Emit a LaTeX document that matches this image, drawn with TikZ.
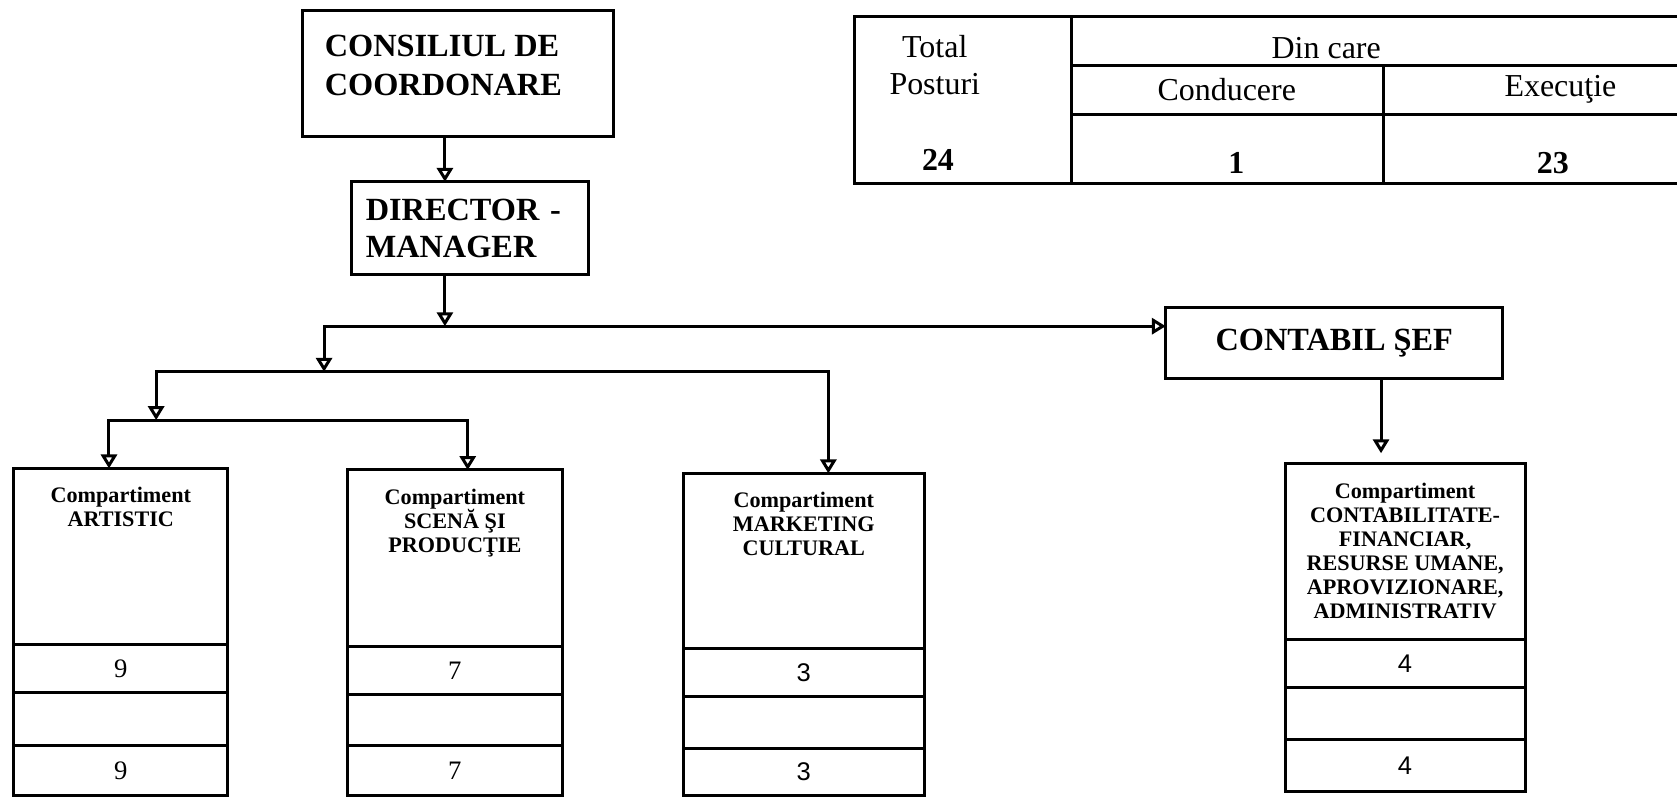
\documentclass[tikz,border=0pt]{standalone}
\usepackage{fontspec}
\setmainfont{Liberation Serif}
\newfontfamily\numsans{Liberation Sans}
\usetikzlibrary{positioning, arrows.meta, calc}
\tikzset{
    % Node Styles
    headbox/.style={
        rectangle, draw, line width=0.8pt, outer sep=0pt,
        font=\fontsize{8.6}{10}\selectfont\bfseries
    },
    bigtext/.style={inner sep=0pt, align=left, font=\fontsize{8.6}{10.3}\selectfont\bfseries},
    comphead/.style={rectangle, draw, line width=0.8pt, outer sep=0pt, inner sep=0pt},
    comptext/.style={inner sep=0pt, align=center, font=\fontsize{5.9}{6.4}\selectfont\bfseries},
    cell/.style={rectangle, draw, line width=0.8pt, outer sep=0pt, inner sep=0pt,
        font=\fontsize{7.1}{8}\selectfont},
    sanscell/.style={cell, font=\numsans\fontsize{6.8}{8}\selectfont},
    tabtext/.style={inner sep=0pt, align=center, font=\fontsize{8.5}{9.7}\selectfont},
    tabnum/.style={inner sep=0pt, align=center, font=\fontsize{8.5}{9.7}\selectfont\bfseries},
    % Arrow Styles
    main_arrow/.style={-{Triangle[open, width=0.15cm, length=0.13cm]}, line width=0.8pt},
    both_arrow/.style={{Triangle[open, width=0.15cm, length=0.13cm]}-{Triangle[open, width=0.15cm, length=0.13cm]}, line width=0.8pt},
    tab_line/.style={line width=0.8pt}
}

\begin{document}
\begin{tikzpicture}

    \useasboundingbox (0,0) rectangle (15.68,-7.46);

    % --- 1. Conducere ---
    \node [headbox, minimum width=2.91cm, minimum height=1.18cm] (consiliu) at (4.285,-0.69) {};
    \node [bigtext, below right=0.22cm and 0.2cm of consiliu.north west] (consiliu_txt) {CONSILIUL DE\\COORDONARE};

    \node [headbox, text width=1.95cm, inner xsep=0.13cm, minimum height=0.87cm, align=left] (director) at (4.395,-2.135) {DIRECTOR -\\MANAGER};

    \node [headbox, minimum width=3.15cm, minimum height=0.665cm] (contabil) at (12.475,-3.21) {CONTABIL ŞEF};

    % --- 2. Compartimente ---
    \node [comphead, minimum width=2.0cm, minimum height=1.651cm] (art) at (1.129,-5.205) {};
    \node [comptext, below=0.17cm of art.north] (art_txt) {Compartiment\\ARTISTIC};
    \node [cell, minimum width=2.0cm, minimum height=0.443cm, below=0pt of art] (art_a) {9};
    \node [cell, minimum width=2.0cm, minimum height=0.493cm, below=0pt of art_a] (art_b) {};
    \node [cell, minimum width=2.0cm, minimum height=0.474cm, below=0pt of art_b] (art_c) {9};

    \node [comphead, minimum width=2.014cm, minimum height=1.651cm] (scn) at (4.253,-5.22) {};
    \node [comptext, below=0.17cm of scn.north] (scn_txt) {Compartiment\\SCENĂ ŞI\\PRODUCŢIE};
    \node [cell, minimum width=2.014cm, minimum height=0.452cm, below=0pt of scn] (scn_a) {7};
    \node [cell, minimum width=2.014cm, minimum height=0.477cm, below=0pt of scn_a] (scn_b) {};
    \node [cell, minimum width=2.014cm, minimum height=0.465cm, below=0pt of scn_b] (scn_c) {7};

    \node [comphead, minimum width=2.25cm, minimum height=1.642cm] (mkt) at (7.515,-5.247) {};
    \node [comptext, below=0.17cm of mkt.north] (mkt_txt) {Compartiment\\MARKETING\\CULTURAL};
    \node [sanscell, minimum width=2.25cm, minimum height=0.44cm, below=0pt of mkt] (mkt_a) {3};
    \node [sanscell, minimum width=2.25cm, minimum height=0.489cm, below=0pt of mkt_a] (mkt_b) {};
    \node [sanscell, minimum width=2.25cm, minimum height=0.445cm, below=0pt of mkt_b] (mkt_c) {3};

    \node [comphead, minimum width=2.245cm, minimum height=1.646cm] (ctb) at (13.1375,-5.161) {};
    \node [comptext, below=0.17cm of ctb.north] (ctb_txt) {Compartiment\\CONTABILITATE-\\FINANCIAR,\\RESURSE UMANE,\\APROVIZIONARE,\\ADMINISTRATIV};
    \node [sanscell, minimum width=2.245cm, minimum height=0.442cm, below=0pt of ctb] (ctb_a) {4};
    \node [sanscell, minimum width=2.245cm, minimum height=0.493cm, below=0pt of ctb_a] (ctb_b) {};
    \node [sanscell, minimum width=2.245cm, minimum height=0.484cm, below=0pt of ctb_b] (ctb_c) {4};

    % --- 3. Legaturi ---
    \coordinate (j1) at (4.16,-3.05);
    \coordinate (j2) at (3.03,-3.05);
    \coordinate (j3) at (3.03,-3.476);
    \coordinate (j4) at (1.46,-3.476);
    \coordinate (j5) at (1.46,-3.928);
    \coordinate (art_in) at ([xshift=-0.11cm]art.north);
    \coordinate (scn_in) at ([xshift=0.12cm]scn.north);
    \coordinate (mkt_in) at ([xshift=0.23cm]mkt.north);
    \coordinate (ctb_in) at ([xshift=-0.225cm]ctb.north);

    \draw [main_arrow] (consiliu.south -| j1) -- (director.north -| j1);
    \draw [main_arrow] (director.south -| j1) -- (j1);
    \draw [both_arrow] (contabil.west |- j2) -- (j2) -- (j3);
    \draw [both_arrow] (j5) -- (j4) -- (mkt_in |- j4) -- (mkt_in);
    \draw [both_arrow] (art_in) |- (j5) -| (scn_in);
    \draw [main_arrow, shorten >=0.1cm] (contabil.south -| ctb_in) -- (ctb_in);

    % --- 4. Tabel posturi ---
    \draw [tab_line] (15.68,-0.15) -- (7.985,-0.15) -- (7.985,-1.72) -- (15.68,-1.72);
    \draw [tab_line] (10.02,-0.15) -- (10.02,-1.72);
    \draw [tab_line] (10.02,-0.617) -- (15.68,-0.617);
    \draw [tab_line] (10.02,-1.07) -- (15.68,-1.07);
    \draw [tab_line] (12.94,-0.617) -- (12.94,-1.72);

    \node [tabtext] (total) at (8.74,-0.608) {Total\\Posturi};
    \node [tabnum] (total_nr) at (8.77,-1.496) {24};
    \node [tabtext] (dincare) at (12.40,-0.45) {Din care};
    \node [tabtext] (cond) at (11.47,-0.84) {Conducere};
    \node [tabtext] (exec) at (14.59,-0.84) {Execuţie};
    \node [tabnum] (cond_nr) at (11.56,-1.527) {1};
    \node [tabnum] (exec_nr) at (14.52,-1.527) {23};

\end{tikzpicture}
\end{document}
